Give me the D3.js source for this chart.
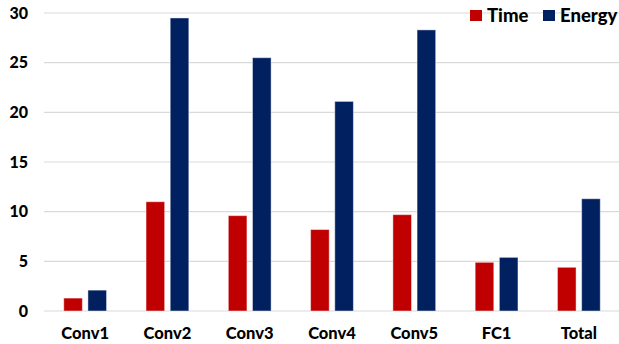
<!DOCTYPE html>
<html>
<head>
<meta charset="utf-8">
<script src="https://cdn.jsdelivr.net/npm/d3@7"></script>
<style>
  html, body { margin: 0; padding: 0; background: #fff; }
  svg { display: block; }
  text { font-family: Lato, "Open Sans", sans-serif; font-weight: 900; fill: #000; }
</style>
</head>
<body>
<svg id="chart" width="619" height="344"></svg>
<script>
// Per-layer normalized figures
const categories = ["Conv1", "Conv2", "Conv3", "Conv4", "Conv5", "FC1", "Total"];
const seriesNames = ["Time", "Energy"];
const timeValues = [1.3, 11.0, 9.6, 8.2, 9.7, 4.9, 4.4];
const energyValues = [2.1, 29.5, 25.5, 21.1, 28.3, 5.4, 11.3];
const yTicks = [0, 5, 10, 15, 20, 25, 30];
const colors = ["#C00000", "#002060"];

const rows = categories.map((c, i) => ({ cat: c, values: [timeValues[i], energyValues[i]] }));

const svg = d3.select("#chart");
const margin = { left: 44, right: -1, top: 13, bottom: 33 };
const W = 619, H = 344;

const x = d3.scaleBand().domain(categories)
  .range([margin.left, W - margin.right])
  .paddingInner(0.48).paddingOuter(0.24);
const xs = d3.scaleBand().domain(seriesNames)
  .range([0, x.bandwidth()]).paddingInner(0.23);
const y = d3.scaleLinear().domain([0, 30]).range([H - margin.bottom, margin.top]);

// Gridlines
svg.append("g")
  .selectAll("line").data(yTicks).join("line")
  .attr("x1", margin.left).attr("x2", W)
  .attr("y1", d => y(d)).attr("y2", d => y(d))
  .attr("stroke", "#d9d9d9").attr("stroke-width", 1.2);

// Y axis labels
const yAxis = d3.axisLeft(y).tickValues(yTicks).tickSize(0).tickPadding(0);
const gy = svg.append("g").attr("transform", "translate(28,0)").call(yAxis);
gy.select(".domain").remove();
gy.selectAll("text").attr("font-size", 16).attr("font-family", "Lato, sans-serif").attr("font-weight", 900).attr("fill", "#000");

// Bars
const groups = svg.append("g").selectAll("g").data(rows).join("g")
  .attr("transform", d => `translate(${x(d.cat)},0)`);
groups.selectAll("rect")
  .data(d => d.values.map((v, k) => ({ k, v })))
  .join("rect")
  .attr("x", d => xs(seriesNames[d.k]))
  .attr("width", xs.bandwidth())
  .attr("y", d => y(d.v))
  .attr("height", d => y(0) - y(d.v))
  .attr("fill", d => colors[d.k])
  .attr("stroke", "rgba(255,255,255,0.45)")
  .attr("stroke-width", 1);

// X axis labels
const xAxis = d3.axisBottom(x).tickSize(0).tickPadding(0);
const gx = svg.append("g").attr("transform", `translate(0,${y(0) + 16})`).call(xAxis);
gx.select(".domain").remove();
gx.selectAll("text").attr("font-size", 16.5).attr("font-family", "Lato, sans-serif").attr("font-weight", 900).attr("fill", "#000");

// Legend
const legend = svg.append("g");
const legendItems = [{ name: "Time", x: 470 }, { name: "Energy", x: 543 }];
legendItems.forEach((it, i) => {
  legend.append("rect").attr("x", it.x).attr("y", 10).attr("width", 12).attr("height", 11)
    .attr("fill", colors[i]);
  legend.append("text").attr("x", it.x + 17).attr("y", 22)
    .attr("font-size", 18.5).text(it.name);
});
</script>
</body>
</html>
